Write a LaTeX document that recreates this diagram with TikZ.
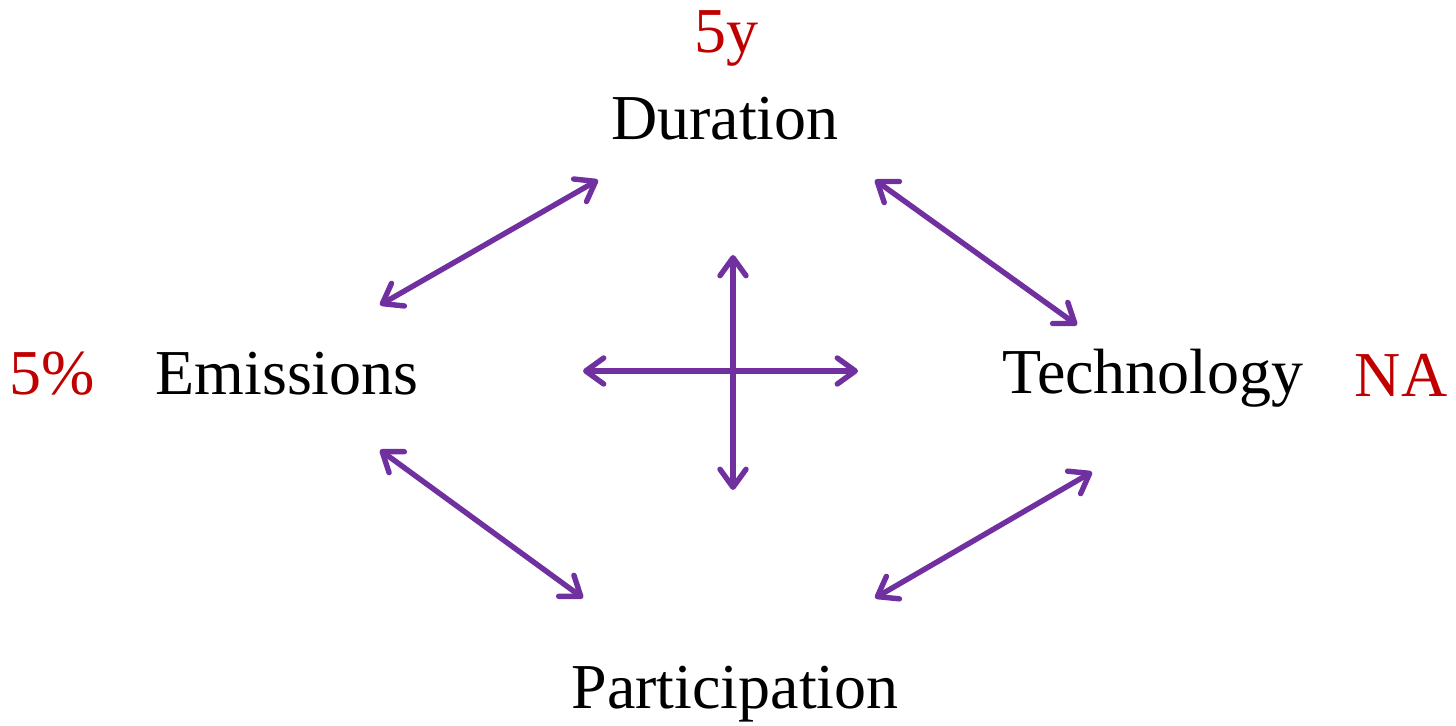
\documentclass[tikz,border=0pt]{standalone}
\usepackage{fontspec}
\setmainfont{Liberation Serif}
\usepackage{xcolor}
\usetikzlibrary{arrows.meta}
\definecolor{linkpurple}{HTML}{7030A0}
\definecolor{valred}{HTML}{C00000}
\tikzset{
  factor/.style={anchor=base, inner sep=0pt, font=\fontsize{32}{38}\selectfont},
  value/.style={factor, text=valred},
  link/.style={draw=linkpurple, line width=2.7pt, line cap=round, {Straight Barb[length=9pt, width=13pt, round]}-{Straight Barb[length=9pt, width=13pt, round]}},
}

\begin{document}
\begin{tikzpicture}[x=0.5pt, y=-0.5pt]
  \useasboundingbox (0,0) rectangle (1456,726);

  % the four factors
  \node[factor] (dur) at (725,140) {Duration};
  \node[factor] (emis) at (287,395) {Emissions};
  \node[factor] (tech) at (1153,394) {Technology};
  \node[factor] (part) at (735,708) {Participation};

  % values
  \node[value] (durval) at (726,53) {5y};
  \node[value] (emisval) at (52,395) {5\%};
  \node[value] (techval) at (1401,397) {NA};

  % arrow ends
  \coordinate (ed1) at (380,305);
  \coordinate (ed2) at (598,180);
  \coordinate (dt1) at (875,180);
  \coordinate (dt2) at (1077,325);
  \coordinate (ep1) at (380,450);
  \coordinate (ep2) at (583,598);
  \coordinate (tp1) at (1092,472);
  \coordinate (tp2) at (875,598);
  \coordinate (vtop) at (733,255);
  \coordinate (vbot) at (733,490);
  \coordinate (hleft) at (583,371);
  \coordinate (hright) at (858,371);

  \draw[link] (ed1) -- (ed2);
  \draw[link] (dt1) -- (dt2);
  \draw[link] (ep1) -- (ep2);
  \draw[link] (tp1) -- (tp2);
  \draw[link] (vtop) -- (vbot);
  \draw[link] (hleft) -- (hright);
\end{tikzpicture}
\end{document}
